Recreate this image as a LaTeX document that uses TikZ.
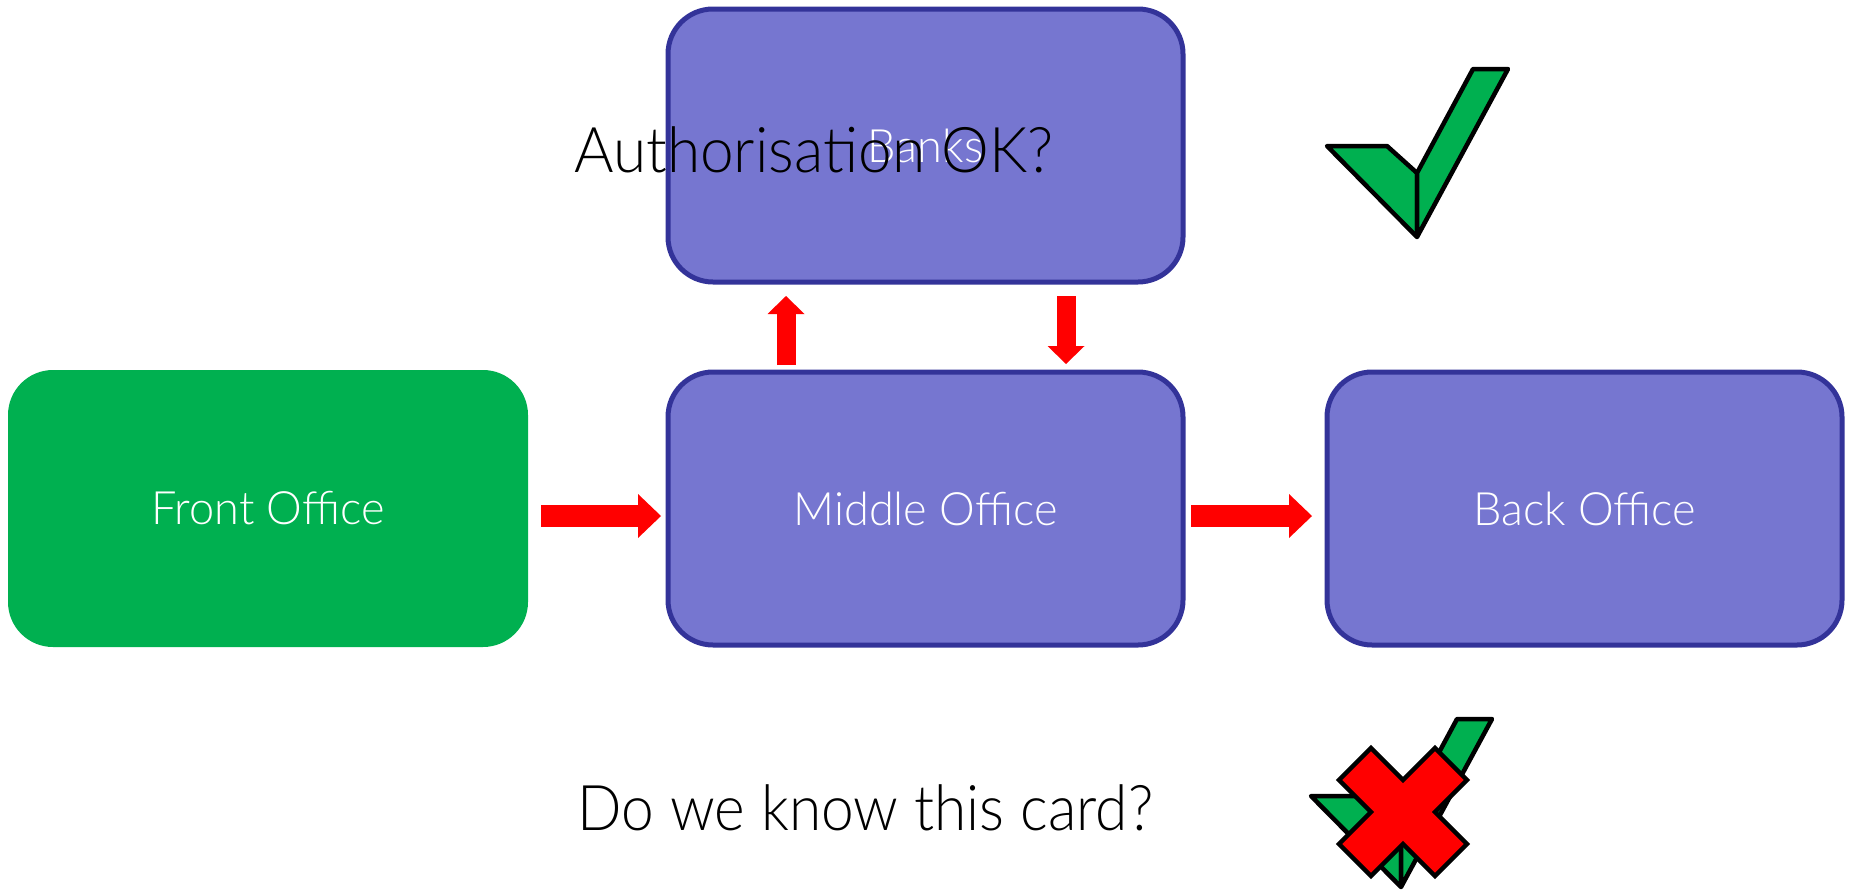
\documentclass[tikz,border=0pt]{standalone}
\usepackage{fontspec}
\setmainfont{Lato Light}
\usetikzlibrary{arrows.meta}
\definecolor{boxblue}{RGB}{118,118,208}
\definecolor{boxedge}{RGB}{51,51,153}
\definecolor{fogreen}{RGB}{0,176,80}
\begin{document}
\begin{tikzpicture}[x=1pt,y=-1pt,
  officebox/.style={rectangle, rounded corners=45pt, minimum width=515pt, minimum height=273pt,
    inner sep=0pt, outer sep=0pt, fill=boxblue, draw=boxedge, line width=5pt, text=white,
    font=\fontsize{46}{50}\selectfont\addfontfeature{FakeStretch=0.98}},
  bigtext/.style={inner sep=0pt, text=black, font=\fontsize{63}{70}\selectfont},
  hbig/.style={draw=red, line width=22pt, -{Triangle[width=44pt,length=23pt,line width=0pt]}},
  vbig/.style={draw=red, line width=19pt, -{Triangle[width=37pt,length=18pt,line width=0pt]}},
  markline/.style={draw=black, line width=4.5pt, line join=round},
  checkmark/.pic={
    \filldraw[markline, fill=fogreen] (-90,-91) -- (-30,-91) -- (0,-64) -- (0,0) -- cycle;
    \filldraw[markline, fill=fogreen] (0,-64) -- (56,-168) -- (91,-168) -- (0,0) -- cycle;
  },
  crossmark/.pic={
    \filldraw[draw=black, line width=4.5pt, line join=miter, fill=red]
      (-32,-64) -- (0,-32) -- (32,-64) -- (64,-32) -- (32,0) -- (64,32) -- (32,64)
      -- (0,32) -- (-32,64) -- (-64,32) -- (-32,0) -- (-64,-32) -- cycle;
  }
]
\useasboundingbox (0,0) rectangle (1852,889);
\fill[white] (0,0) rectangle (1852,889);

\node[officebox] (banks) at (925.5,145.5) {Banks};
\node[officebox] (middle) at (925.5,508.5) {Middle Office};
\node[officebox] (back) at (1584.5,508.5) {Back Office};
\node[officebox, draw=none, fill=fogreen, minimum width=520pt, minimum height=277pt] (front) at (268,508.5) {Front Office};

\node[bigtext, anchor=base, font=\fontsize{63}{70}\selectfont\addfontfeature{FakeStretch=0.958}] (auth) at (814,172) {Authorisation OK?};
\node[bigtext, anchor=base, font=\fontsize{63}{70}\selectfont\addfontfeature{FakeStretch=0.93}] (know) at (865.5,830) {Do we know this card?};

\draw[hbig] ([xshift=13pt,yshift=-7.5pt]front.east) -- ([xshift=-7pt,yshift=-7.5pt]middle.west);
\draw[hbig] ([xshift=8pt,yshift=-7.5pt]middle.east) -- ([xshift=-15pt,yshift=-7.5pt]back.west);
\draw[vbig] ([xshift=118pt,yshift=7pt]middle.north west) -- ([xshift=118pt,yshift=-14pt]banks.south west);
\draw[vbig] ([xshift=-117pt,yshift=-14pt]banks.south east) -- ([xshift=-117pt,yshift=8pt]middle.north east);

\pic at (1417,237) {checkmark};
\pic at (1401,887) {checkmark};
\pic at (1403,812) {crossmark};
\end{tikzpicture}
\end{document}
